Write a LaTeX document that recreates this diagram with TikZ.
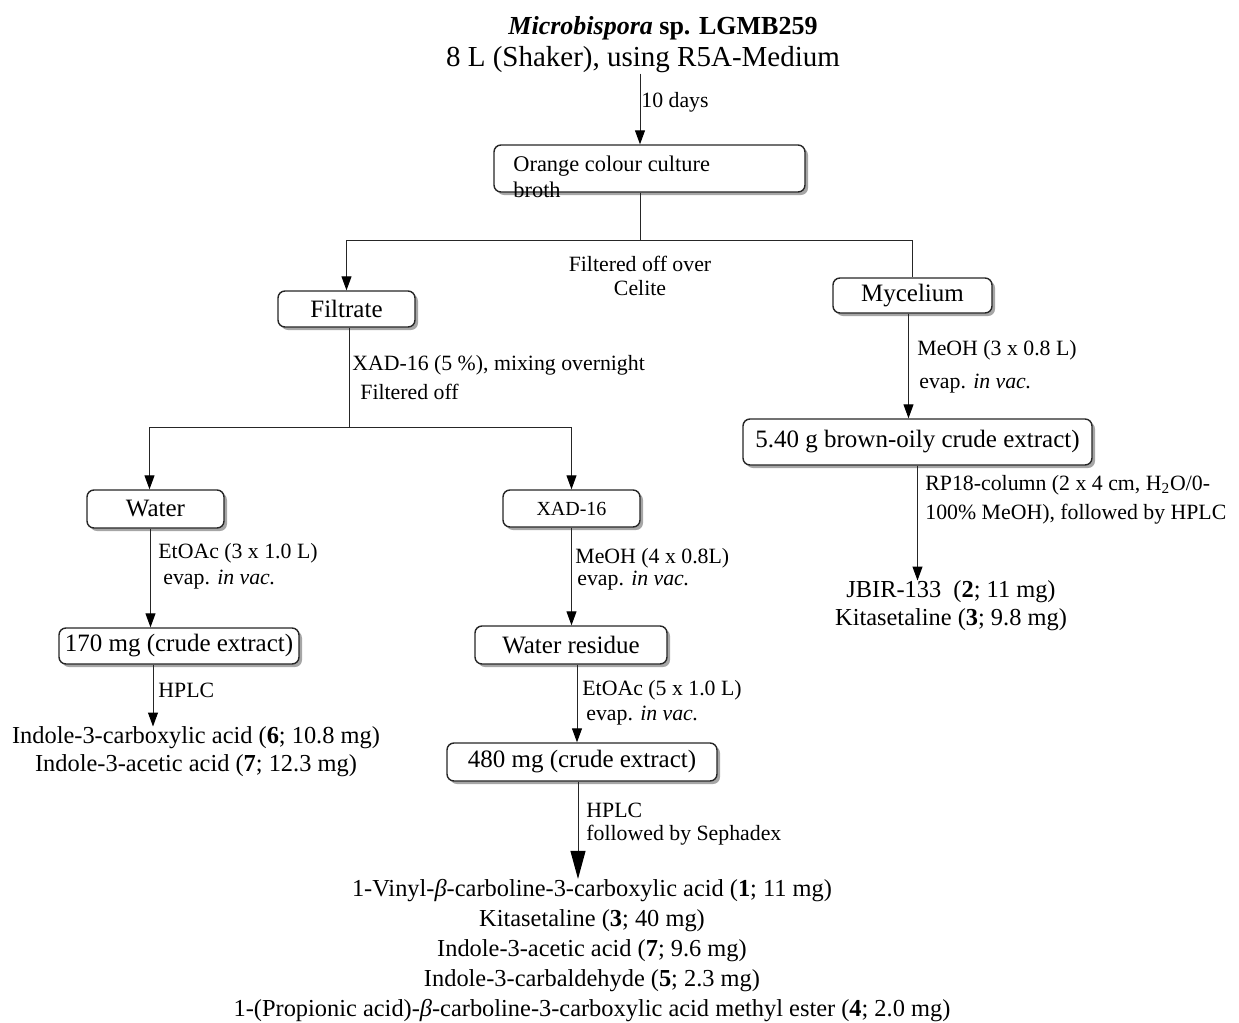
\documentclass[tikz,border=0pt]{standalone}
\usepackage{fontspec}
\setmainfont{Liberation Serif}
\usetikzlibrary{arrows.meta,shadows}

\begin{document}
\begin{tikzpicture}[x=.5pt,y=-.5pt,
  box/.style={draw=black!85,line width=.7pt,rounded corners=3.5pt,fill=white,inner sep=1pt,
    drop shadow={shadow xshift=1.5pt,shadow yshift=-1.5pt,fill=black!35,opacity=1},
    font=\fontsize{12.5}{15}\selectfont},
  lbl/.style={anchor=west,inner sep=0pt,font=\fontsize{10.9}{13}\selectfont},
  res/.style={inner sep=0pt,align=center},
  arr/.style={-{Triangle[length=7pt,width=5pt,color=black]},line width=.5pt,draw=black!85},
  ln/.style={line width=.5pt,draw=black!85}]
\useasboundingbox (0,0) rectangle (1239,1023);
% title
\node[inner sep=0pt,font=\fontsize{13}{15}\selectfont\bfseries] (strain) at (663,28) {\textit{Microbispora} sp. LGMB259};
\node[inner sep=0pt,font=\fontsize{14.5}{17}\selectfont] (medium) at (643,60) {8 L (Shaker), using R5A-Medium};
% boxes
\node[box,minimum width=155.5pt,minimum height=23.5pt] (broth) at (649.5,168.5) {};
\node[anchor=base west,inner sep=0pt,font=\fontsize{11.2}{13}\selectfont] (brothA) at (513,171) {Orange colour culture};
\node[anchor=base west,inner sep=0pt,font=\fontsize{11.2}{13}\selectfont] (brothB) at (513,197) {broth};
\node[box,minimum width=68.5pt,minimum height=18pt] (filtrate) at (346.5,309) {Filtrate};
\node[box,minimum width=79.5pt,minimum height=17.5pt] (mycelium) at (912.5,295.5) {Mycelium};
\node[box,minimum width=68.5pt,minimum height=19pt] (water) at (155.5,509) {Water};
\node[box,minimum width=68.5pt,minimum height=18.5pt,font=\fontsize{10}{12}\selectfont] (xad) at (571.5,508.5) {XAD-16};
\node[box,minimum width=120pt,minimum height=18pt] (crudeA) at (179,646) {170 mg (crude extract)};
\node[box,minimum width=96pt,minimum height=19pt] (residue) at (571,645) {Water residue};
\node[box,minimum width=135pt,minimum height=19pt] (crudeB) at (582,762) {480 mg (crude extract)};
\node[box,minimum width=174.5pt,minimum height=23pt] (crudeC) at (917.5,442) {5.40 g brown-oily crude extract)};
% results
\node[res,font=\fontsize{12.2}{14}\selectfont] (resA) at (196,752) {Indole-3-carboxylic acid (\textbf{6}; 10.8 mg)\\Indole-3-acetic acid (\textbf{7}; 12.3 mg)};
\node[res,font=\fontsize{12.2}{14}\selectfont] (resC) at (951,606) {JBIR-133\ \ (\textbf{2}; 11 mg)\\Kitasetaline (\textbf{3}; 9.8 mg)};
\node[res,font=\fontsize{12.2}{15}\selectfont] (resB) at (592,950.5) {1-Vinyl-\textit{β}-carboline-3-carboxylic acid (\textbf{1}; 11 mg)\\Kitasetaline (\textbf{3}; 40 mg)\\Indole-3-acetic acid (\textbf{7}; 9.6 mg)\\Indole-3-carbaldehyde (\textbf{5}; 2.3 mg)\\1-(Propionic acid)-\textit{β}-carboline-3-carboxylic acid methyl ester (\textbf{4}; 2.0 mg)};
% split points
\coordinate (splitA) at (640,240);
\coordinate (splitB) at (349,427);
% connectors
\draw[arr] (medium.south -| splitA) -- (broth.north -| splitA);
\draw[ln] (broth.south -| splitA) -- (splitA);
\draw[arr] (splitA) -| (filtrate.north);
\draw[ln] (splitA) -| (mycelium.north);
\draw[ln] (filtrate.south -| splitB) -- (splitB);
\draw[arr] (splitB) -| ([xshift=-3pt]water.north);
\draw[arr] (splitB) -| (xad.north);
\draw[arr] ([xshift=-2.5pt]water.south) -- ([xshift=-2.5pt]water.south |- crudeA.north);
\draw[arr] ([xshift=-13pt]crudeA.south) -- ([xshift=-13pt]crudeA.south |- resA.north);
\draw[arr] (xad.south) -- (xad.south |- residue.north);
\draw[arr] ([xshift=3pt]residue.south) -- ([xshift=3pt]residue.south |- crudeB.north);
\draw[ln,-{Triangle[length=14pt,width=7.5pt,color=black]}] ([xshift=-2pt]crudeB.south) -- ([xshift=-2pt]crudeB.south |- resB.north);
\draw[arr] ([xshift=-2pt]mycelium.south) -- ([xshift=-2pt]mycelium.south |- crudeC.north);
\draw[arr] (crudeC.south) -- (crudeC.south |- resC.north);
% labels
\node[lbl] (tdays) at (641,102) {10 days};
\node[res,font=\fontsize{10.9}{12}\selectfont] (celite) at (640,276) {Filtered off over\\Celite};
\node[lbl] (xadA) at (352,365) {XAD-16 (5 \%), mixing overnight};
\node[lbl] (xadB) at (360,392) {Filtered off};
\node[lbl] (etA) at (158,553) {EtOAc (3 x 1.0 L)};
\node[lbl] (evA) at (163,580) {evap. \textit{in vac.}};
\node[lbl] (hplcA) at (158,690) {HPLC};
\node[lbl] (meB) at (575,558) {MeOH (4 x 0.8L)};
\node[lbl] (evB) at (577,581) {evap. \textit{in vac.}};
\node[lbl] (etB) at (582,690) {EtOAc (5 x 1.0 L)};
\node[lbl] (evC) at (586,716) {evap. \textit{in vac.}};
\node[lbl] (hplcB) at (586,810) {HPLC};
\node[lbl] (sephadex) at (586,835) {followed by Sephadex};
\node[lbl] (meC) at (917,350) {MeOH (3 x 0.8 L)};
\node[lbl] (evD) at (919,384) {evap. \textit{in vac.}};
\node[lbl] (rpA) at (925,485) {RP18-column (2 x 4 cm, H\textsubscript{2}O/0-};
\node[lbl] (rpB) at (925,514) {100\% MeOH), followed by HPLC};
\end{tikzpicture}
\end{document}
